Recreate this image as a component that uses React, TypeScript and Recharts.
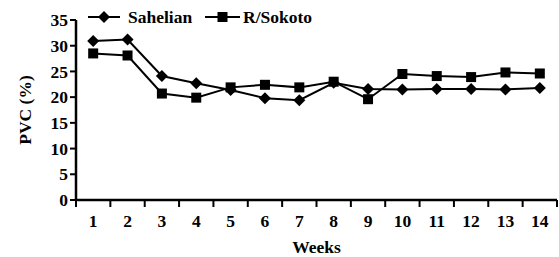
import React from "react";
import { LineChart, Line, XAxis, YAxis, Legend } from "recharts";

const weeks = [1, 2, 3, 4, 5, 6, 7, 8, 9, 10, 11, 12, 13, 14];
const weekBoundaries = [0.5, 1.5, 2.5, 3.5, 4.5, 5.5, 6.5, 7.5, 8.5, 9.5, 10.5, 11.5, 12.5, 13.5, 14.5];
const sahelian = [30.9, 31.2, 24.1, 22.7, 21.4, 19.8, 19.4, 22.8, 21.6, 21.5, 21.6, 21.6, 21.5, 21.8];
const rSokoto = [28.5, 28.1, 20.7, 19.9, 21.9, 22.4, 21.9, 23.0, 19.6, 24.5, 24.1, 23.9, 24.8, 24.6];
const yTicks = [0, 5, 10, 15, 20, 25, 30, 35];
const seriesNames = ["Sahelian", "R/Sokoto"];

const data = weeks.map((w, i) => ({ week: w, sahelian: sahelian[i], rSokoto: rSokoto[i] }));
const xTicks = [...weekBoundaries, ...weeks].sort((a, b) => a - b);

const FONT = "Liberation Serif";
const textStyle = { fontFamily: FONT, fontSize: 17.5, fontWeight: 700 as const, fill: "#000" };

const Diamond = (props: any) => {
  const { cx, cy } = props;
  if (cx == null || cy == null) return null;
  const s = 6;
  return (
    <polygon
      points={`${cx},${cy - s} ${cx + s},${cy} ${cx},${cy + s} ${cx - s},${cy}`}
      fill="#000"
      stroke="none"
    />
  );
};

const Square = (props: any) => {
  const { cx, cy } = props;
  if (cx == null || cy == null) return null;
  const s = 5;
  return <rect x={cx - s} y={cy - s} width={2 * s} height={2 * s} fill="#000" stroke="none" />;
};

const XTick = (props: any) => {
  const { x, y, payload } = props;
  const v = payload.value;
  if (Number.isInteger(v)) {
    return (
      <text x={x} y={y + 27} textAnchor="middle" style={textStyle}>
        {v}
      </text>
    );
  }
  return <line x1={x} x2={x} y1={y} y2={y + 7} stroke="#000" strokeWidth={2} />;
};

const LegendContent = (props: any) => {
  const payload = props.payload || [];
  const layout = [
    { x1: 88, x2: 120, tx: 128 },
    { x1: 205, x2: 240, tx: 243 },
  ];
  const ordered = seriesNames
    .map((n) => payload.find((p: any) => p.value === n))
    .filter(Boolean);
  return (
    <svg width={559} height={30} style={{ display: "block" }}>
      {ordered.map((p: any, i: number) => {
        const l = layout[i];
        const cx = (l.x1 + l.x2) / 2;
        const cy = 17;
        return (
          <g key={i}>
            <line x1={l.x1} x2={l.x2} y1={cy} y2={cy} stroke="#000" strokeWidth={2} />
            {i === 0 ? <Diamond cx={cx} cy={cy} /> : <Square cx={cx} cy={cy} />}
            <text x={l.tx} y={23} style={textStyle}>
              {p.value}
            </text>
          </g>
        );
      })}
    </svg>
  );
};

export default function App() {
  return (
    <div style={{ position: "absolute", left: 0, top: 0, width: 559, height: 257, background: "#fff" }}>
      <LineChart width={559} height={257} data={data} margin={{ top: 20, right: 2, bottom: 0, left: 0 }}>
        <XAxis
          dataKey="week"
          type="number"
          domain={[0.5, 14.5]}
          ticks={xTicks}
          interval={0}
          tick={<XTick />}
          tickLine={false}
          tickSize={0}
          tickMargin={0}
          axisLine={{ stroke: "#000", strokeWidth: 2.5 }}
          height={57}
          label={(lp: any) => {
            const vb = lp.viewBox || {};
            return (
              <text x={vb.x + vb.width / 2} y={253} textAnchor="middle" style={textStyle}>
                Weeks
              </text>
            );
          }}
        />
        <YAxis
          type="number"
          domain={[0, 35]}
          ticks={yTicks}
          interval={0}
          width={76}
          tickSize={6}
          tickMargin={2}
          tickLine={{ stroke: "#000", strokeWidth: 2 }}
          axisLine={{ stroke: "#000", strokeWidth: 2.5 }}
          tick={{ fontFamily: FONT, fontSize: 17.5, fontWeight: 700, fill: "#000" }}
          label={(lp: any) => {
            const vb = lp.viewBox || {};
            const cx = 25;
            const cy = vb.y + vb.height / 2;
            return (
              <text
                x={cx}
                y={cy}
                transform={`rotate(-90 ${cx} ${cy})`}
                textAnchor="middle"
                dominantBaseline="central"
                style={textStyle}
              >
                PVC (%)
              </text>
            );
          }}
        />
        <Legend
          verticalAlign="top"
          align="left"
          content={<LegendContent />}
          wrapperStyle={{ top: 0, left: 0, height: 0, overflow: "visible" }}
        />
        <Line
          dataKey="sahelian"
          name={seriesNames[0]}
          stroke="#000"
          strokeWidth={2}
          dot={<Diamond />}
          activeDot={false}
          isAnimationActive={false}
        />
        <Line
          dataKey="rSokoto"
          name={seriesNames[1]}
          stroke="#000"
          strokeWidth={2}
          dot={<Square />}
          activeDot={false}
          isAnimationActive={false}
        />
      </LineChart>
    </div>
  );
}
